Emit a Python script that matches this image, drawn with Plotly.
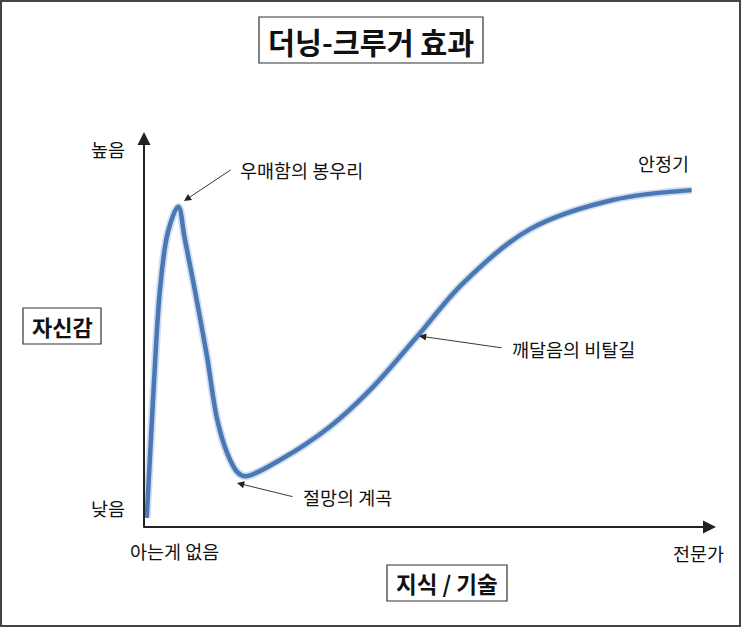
import plotly.graph_objects as go

W, H = 743, 628
# pixel calibration of the drawn axes
X0_PX, X100_PX = 144, 715
Y0_PX, Y100_PX = 527, 133
SX = (X100_PX - X0_PX) / 100.0
SY = (Y0_PX - Y100_PX) / 100.0

def dx(px):
    return (px - X0_PX) / SX

def dy(py):
    return (Y0_PX - py) / SY

# data: knowledge (0-100) vs confidence (0-100)
knowledge = [0.47, 1.58, 2.8, 4.2, 6.0, 7.15, 9.1, 11.05, 12.8, 14.55, 16.3, 17.7,
             23.8, 32.6, 39.6, 47.8, 55.9, 67.6, 82.1, 95.9]
confidence = [2.3, 32.2, 60.2, 74.9, 81.3, 73.1, 58.6, 43.1, 27.4, 18.8, 14.0, 12.9,
              17.0, 25.5, 34.8, 48.3, 61.9, 75.6, 83.0, 85.5]

title = "더닝-크루거 효과"
y_label = "자신감"
x_label = "지식 / 기술"
y_ticks = ["높음", "낮음"]
x_ticks = ["아는게 없음", "전문가"]
stage_labels = ["우매함의 봉우리", "절망의 계곡", "깨달음의 비탈길", "안정기"]

FONT = "Noto Sans CJK KR, Noto Sans, sans-serif"

fig = go.Figure()
fig.add_trace(go.Scatter(x=knowledge, y=confidence, mode="lines",
                         line=dict(color="rgba(120,160,210,0.35)", width=8, shape="spline", smoothing=1.0),
                         hoverinfo="skip", showlegend=False))
fig.add_trace(go.Scatter(x=knowledge, y=confidence, mode="lines",
                         line=dict(color="#4a78b4", width=4.5, shape="spline", smoothing=1.0),
                         showlegend=False))

ann = []
# axes arrows
ann.append(dict(x=dx(716), y=0, ax=dx(142), ay=0, xref="x", yref="y", axref="x", ayref="y",
                showarrow=True, arrowhead=2, arrowsize=1.3, arrowwidth=2, arrowcolor="#222", text=""))
ann.append(dict(x=0, y=dy(132), ax=0, ay=dy(529), xref="x", yref="y", axref="x", ayref="y",
                showarrow=True, arrowhead=2, arrowsize=1.3, arrowwidth=2, arrowcolor="#222", text=""))

def txt(s, px, py, size=18.5, anchor="center", bold=False):
    return dict(x=dx(px), y=dy(py), xref="x", yref="y", text=("<b>%s</b>" % s) if bold else s,
                showarrow=False, xanchor=anchor, yanchor="middle",
                font=dict(family=FONT, size=size, color="#111"))

ann.append(txt(y_ticks[0], 127, 149, anchor="right"))
ann.append(txt(y_ticks[1], 127, 508, anchor="right"))
ann.append(txt(x_ticks[0], 174, 551))
ann.append(txt(x_ticks[1], 698, 553))
ann.append(txt(stage_labels[0], 238, 170, anchor="left"))
ann.append(txt(stage_labels[1], 301, 497, anchor="left"))
ann.append(txt(stage_labels[2], 510, 349, anchor="left"))
ann.append(txt(stage_labels[3], 663, 163))

def pointer(tip, tail):
    return dict(x=dx(tip[0]), y=dy(tip[1]), ax=dx(tail[0]), ay=dy(tail[1]),
                xref="x", yref="y", axref="x", ayref="y", text="", showarrow=True,
                arrowhead=2, arrowsize=1.6, arrowwidth=0.9, arrowcolor="#222")

ann.append(pointer((184, 201), (232, 169)))
ann.append(pointer((237, 483), (294, 497)))
ann.append(pointer((419, 336), (503, 348)))

# boxed labels
ann.append(txt(title, 371, 41, size=29.3, bold=True))
ann.append(txt(y_label, 62, 326, size=22, bold=True))
ann.append(txt(x_label, 447, 583, size=22.5, bold=True))

def prect(x0, y0, x1, y1, w=1.2, color="#333"):
    return dict(type="rect", xref="paper", yref="paper",
                x0=x0 / W, x1=x1 / W, y0=1 - y0 / H, y1=1 - y1 / H,
                line=dict(color=color, width=w), fillcolor="rgba(0,0,0,0)")

shapes = [
    prect(1, 1, 740, 626, w=2, color="#444"),
    prect(259, 17, 483, 63),
    prect(23, 308, 101, 344),
    prect(387, 565, 507, 601),
]

fig.update_layout(
    width=W, height=H, margin=dict(l=0, r=0, t=0, b=0),
    paper_bgcolor="white", plot_bgcolor="white",
    xaxis=dict(range=[dx(0), dx(W)], visible=False, fixedrange=True),
    yaxis=dict(range=[dy(H), dy(0)], visible=False, fixedrange=True),
    annotations=ann, shapes=shapes,
)

fig.write_html("out.html")
